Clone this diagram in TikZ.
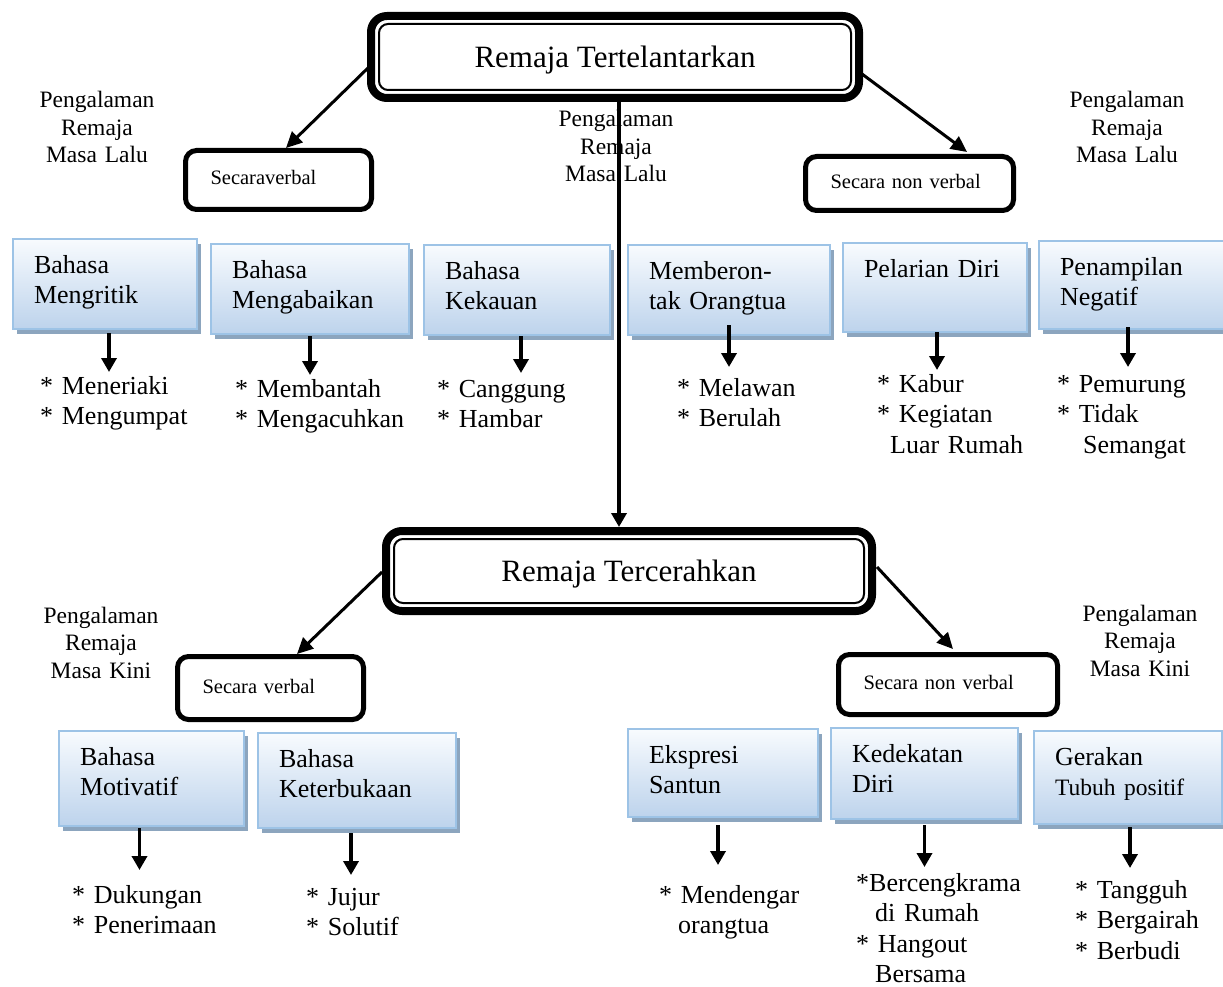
\documentclass[tikz,border=0pt]{standalone}
\usepackage{fontspec}
\setmainfont{Liberation Serif}
\usetikzlibrary{arrows.meta,calc,shadows}
\definecolor{bdr}{HTML}{9DC3E6}
\definecolor{bfill}{HTML}{BDD3EC}
\definecolor{btop}{HTML}{F8FBFE}
\definecolor{shd}{HTML}{8CA5BE}
\tikzset{
  mbox/.style={draw,line width=8pt,rounded corners=16pt,fill=white,minimum width=488pt,minimum height=82pt,text depth=0pt,font=\fontsize{31}{36}\selectfont},
  inln/.style={line width=2pt,rounded corners=9pt},
  sbox/.style={draw,line width=5pt,rounded corners=11pt,fill=white,align=left,inner xsep=25pt,text height=10pt,text depth=0pt,anchor=north west,font=\fontsize{20.5}{24}\selectfont},
  bbox/.style={draw=bdr,line width=2pt,top color=btop,bottom color=bfill,general shadow={fill=shd,shadow xshift=4pt,shadow yshift=-5pt},align=left,inner xsep=21pt,inner ysep=8pt,text height=26pt,text depth=48pt,anchor=north west,font=\fontsize{26}{30.5}\selectfont},
  lst/.style={inner sep=0pt,text width=200pt,align=left,anchor=base west,font=\fontsize{26}{30.5}\selectfont},
  pgl/.style={inner sep=0pt,text width=150pt,align=center,anchor=base,font=\fontsize{23.5}{27.5}\selectfont},
  ar/.style={-{Triangle[length=14pt,width=15pt]},line width=3.5pt},
  dar/.style={-{Triangle[length=16pt,width=15pt]},line width=3pt},
}
\begin{document}
\begin{tikzpicture}[x=1pt,y=-1pt]
\useasboundingbox (0,0) rectangle (1223,987);
\node[mbox] (top) at (615,57) {Remaja Tertelantarkan};
\draw[inln] ($(top.south west)+(12,-12)$) rectangle ($(top.north east)+(-12,12)$);
\node[mbox,minimum width=486pt,minimum height=80pt] (bot) at (629,571) {Remaja Tercerahkan};
\draw[inln] ($(bot.south west)+(12,-12)$) rectangle ($(bot.north east)+(-12,12)$);

\node[sbox,text width=136pt,minimum height=59pt] (sv1) at (183,148) {Secaraverbal};
\node[sbox,text width=158pt,minimum height=54pt] (sv2) at (803,154) {Secara non verbal};
\node[sbox,text width=136pt,minimum height=63pt] (sv3) at (175,654) {Secara verbal};
\node[sbox,text width=169pt,minimum height=60pt] (sv4) at (836,652) {Secara non verbal};

\node[pgl] (p1) at (97,108) {Pengalaman\\Remaja\\Masa Lalu};
\node[pgl] (p2) at (616,127) {Pengalaman\\Remaja\\Masa Lalu};
\node[pgl] (p3) at (1127,108) {Pengalaman\\Remaja\\Masa Lalu};
\node[pgl] (p4) at (101,623) {Pengalaman\\Remaja\\Masa Kini};
\node[pgl] (p5) at (1140,621) {Pengalaman\\Remaja\\Masa Kini};

\draw[ar] ($(top.south)+(4,0)$) -- ($(bot.north)+(-10,0)$);
\draw[dar] ($(top.west)+(3,9)$) -- ($(sv1.north west)+(103,0)$);
\draw[dar] ($(top.east)+(-1,17)$) -- ($(sv2.north west)+(164,-2)$);
\draw[dar] ($(bot.west)+(0,1)$) -- ($(sv3.north west)+(122,0)$);
\draw[dar] ($(bot.east)+(1,-4)$) -- ($(sv4.north west)+(117,-3)$);

\node[bbox,text width=142pt] (b1) at (12,238) {Bahasa\\Mengritik};
\node[bbox,text width=156pt] (b2) at (210,243) {Bahasa\\Mengabaikan};
\node[bbox,text width=144pt] (b3) at (423,244) {Bahasa\\Kekauan};
\node[bbox,text width=160pt] (b4) at (627,244) {Memberon-\\tak Orangtua};
\node[bbox,text width=142pt,text depth=47pt] (b5) at (842,242) {Pelarian Diri};
\node[bbox,text width=146pt,text depth=46pt] (b6) at (1038,240) {Penampilan\\Negatif};

\node[bbox,text width=143pt,text depth=53pt] (c1) at (58,730) {Bahasa\\Motivatif};
\node[bbox,text width=156pt,text depth=53pt] (c2) at (257,732) {Bahasa\\Keterbukaan};
\node[bbox,text width=148pt,text depth=46pt] (c3) at (627,728) {Ekspresi\\Santun};
\node[bbox,text width=145pt,text depth=49pt] (c4) at (830,727) {Kedekatan\\Diri};
\node[bbox,text width=146pt,text depth=51pt] (c5) at (1033,730) {Gerakan\\{\fontsize{23.5}{28}\selectfont Tubuh positif}};

\draw[ar] ($(b1.south)+(4,3)$) -- ++(0,39);
\draw[ar] ($(b2.south)+(0,1)$) -- ++(0,39);
\draw[ar] ($(b3.south)+(4,0)$) -- ++(0,37);
\draw[ar] ($(b4.south)+(0,-11)$) -- ++(0,42);
\draw[ar] ($(b5.south)+(2,-1)$) -- ++(0,38);
\draw[ar] ($(b6.south)+(-5,-3)$) -- ++(0,40);
\draw[ar] ($(c1.south)+(-12,1)$) -- ++(0,42);
\draw[ar] ($(c2.south)+(-6,4)$) -- ++(0,42);
\draw[ar] ($(c3.south)+(-5,7)$) -- ++(0,40);
\draw[ar] ($(c4.south)+(0,5)$) -- ++(0,42);
\draw[ar] ($(c5.south)+(2,2)$) -- ++(0,41);

\node[lst] (l1) at (40,394) {* Meneriaki\\{}* Mengumpat};
\node[lst] (l2) at (235,397) {* Membantah\\{}* Mengacuhkan};
\node[lst] (l3) at (437,397) {* Canggung\\{}* Hambar};
\node[lst] (l4) at (677,396) {* Melawan\\{}* Berulah};
\node[lst] (l5) at (877,392) {* Kabur\\{}* Kegiatan\\\hspace*{13pt}Luar Rumah};
\node[lst] (l6) at (1057,392) {* Pemurung\\{}* Tidak\\\hspace*{26pt}Semangat};
\node[lst] (m1) at (72,903) {* Dukungan\\{}* Penerimaan};
\node[lst] (m2) at (306,905) {* Jujur\\{}* Solutif};
\node[lst] (m3) at (659,903) {* Mendengar\\\hspace*{19pt}orangtua};
\node[lst] (m4) at (856,891) {*Bercengkrama\\\hspace*{19pt}di Rumah\\{}* Hangout\\\hspace*{19pt}Bersama};
\node[lst] (m5) at (1075,898) {* Tangguh\\{}* Bergairah\\{}* Berbudi};
\end{tikzpicture}
\end{document}
